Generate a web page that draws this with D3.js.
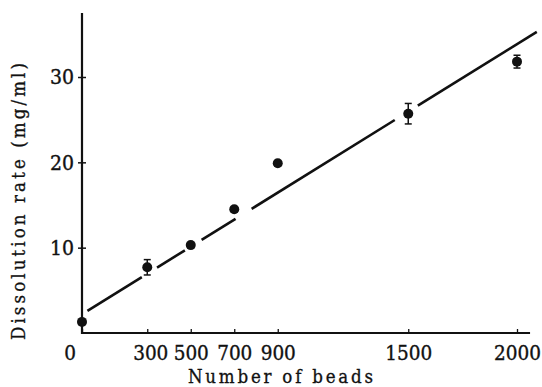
<!DOCTYPE html>
<html>
<head>
<meta charset="utf-8">
<script src="https://cdn.jsdelivr.net/npm/d3@7"></script>
<style>
  html, body { margin: 0; padding: 0; background: #fff; }
  svg { display: block; }
</style>
</head>
<body>
<svg id="chart" width="542" height="387"></svg>
<script>
// measured points (number of beads vs dissolution rate)
const beads = [0, 300, 500, 700, 900, 1500, 2000];
const rate = [1.3, 7.7, 10.3, 14.5, 19.9, 25.7, 31.8];
const rateErr = [0, 0.9, 0.3, 0.3, 0.3, 1.2, 0.75];

const xTicks = [0, 300, 500, 700, 900, 1500, 2000];
const yTicks = [10, 20, 30];

// regression line, drawn as broken pieces (start / end in data units)
const fitStartX = [25, 345, 550, 780, 1544];
const fitStartY = [2.6, 7.66, 10.91, 14.55, 26.64];
const fitEndX = [275, 473, 706, 1438, 2091];
const fitEndY = [6.55, 9.69, 13.38, 24.96, 35.3];

const svg = d3.select("#chart");
const ink = "#111";
const font = "DejaVu Serif Condensed";

const x = d3.scaleLinear().domain([0, 2000]).range([82, 517]);
const y = d3.scaleLinear().domain([0, 30]).range([333, 77]);

// axes lines
svg.append("line")
  .attr("x1", x(0)).attr("x2", x(0))
  .attr("y1", y(0) + 1).attr("y2", y(37.5))
  .attr("stroke", ink).attr("stroke-width", 2.2);
svg.append("line")
  .attr("x1", x(0) - 1).attr("x2", x(2060))
  .attr("y1", y(0)).attr("y2", y(0))
  .attr("stroke", ink).attr("stroke-width", 2.2);

// x axis
const xAxis = svg.append("g")
  .attr("transform", "translate(0," + y(0) + ")")
  .call(d3.axisBottom(x).tickValues(xTicks).tickSizeInner(-4).tickSizeOuter(0).tickPadding(0).tickFormat(d3.format("d")));
xAxis.select(".domain").remove();
xAxis.attr("font-family", font).attr("font-size", 20.5);
xAxis.selectAll(".tick line").attr("stroke", ink).attr("stroke-width", 1.3);
xAxis.selectAll(".tick text")
  .attr("fill", ink)
  .attr("stroke", ink).attr("stroke-width", 0.35)
  .attr("y", 27)
  .attr("dy", null)
  .attr("dx", d => d === 0 ? -12.5 : (d === 300 ? 3 : 0));

// y axis
const yAxis = svg.append("g")
  .attr("transform", "translate(" + x(0) + ",0)")
  .call(d3.axisLeft(y).tickValues(yTicks).tickSizeInner(4).tickSizeOuter(0).tickPadding(5));
yAxis.select(".domain").remove();
yAxis.attr("font-family", font).attr("font-size", 21);
yAxis.selectAll(".tick line").attr("x2", 4).attr("x1", -4).attr("stroke", ink).attr("stroke-width", 1.5);
yAxis.selectAll(".tick text")
  .attr("fill", ink)
  .attr("stroke", ink).attr("stroke-width", 0.35)
  .attr("x", -8)
  .attr("dy", "0.33em");

// fit line pieces
svg.append("g").selectAll("line")
  .data(fitStartX.map((d, i) => ({ x1: d, y1: fitStartY[i], x2: fitEndX[i], y2: fitEndY[i] })))
  .enter().append("line")
  .attr("x1", d => x(d.x1)).attr("y1", d => y(d.y1))
  .attr("x2", d => x(d.x2)).attr("y2", d => y(d.y2))
  .attr("stroke", ink).attr("stroke-width", 2.6).attr("stroke-linecap", "butt");

// error bars
const pts = beads.map((d, i) => ({ b: d, r: rate[i], e: rateErr[i] }));
const eb = svg.append("g").selectAll("g")
  .data(pts.filter(d => d.e > 0))
  .enter().append("g");
eb.append("line")
  .attr("x1", d => x(d.b)).attr("x2", d => x(d.b))
  .attr("y1", d => y(d.r - d.e)).attr("y2", d => y(d.r + d.e))
  .attr("stroke", ink).attr("stroke-width", 1.5);
eb.selectAll(".cap")
  .data(d => [d.r - d.e, d.r + d.e].map(v => ({ b: d.b, v: v })))
  .enter().append("line")
  .attr("x1", d => x(d.b) - 3.5).attr("x2", d => x(d.b) + 3.5)
  .attr("y1", d => y(d.v)).attr("y2", d => y(d.v))
  .attr("stroke", ink).attr("stroke-width", 1.5);

// points
svg.append("g").selectAll("circle")
  .data(pts)
  .enter().append("circle")
  .attr("cx", d => x(d.b))
  .attr("cy", d => y(d.r))
  .attr("r", 5)
  .attr("fill", ink);

// axis titles
svg.append("text")
  .attr("x", 280.5).attr("y", 383)
  .attr("text-anchor", "middle")
  .attr("font-family", font)
  .attr("font-size", 18.5)
  .attr("fill", ink)
  .attr("stroke", ink).attr("stroke-width", 0.3)
  .attr("textLength", 185).attr("lengthAdjust", "spacing")
  .text("Number of beads");

svg.append("text")
  .attr("transform", "translate(25,201.5) rotate(-90)")
  .attr("text-anchor", "middle")
  .attr("font-family", font)
  .attr("font-size", 18.5)
  .attr("fill", ink)
  .attr("stroke", ink).attr("stroke-width", 0.3)
  .attr("textLength", 277).attr("lengthAdjust", "spacing")
  .text("Dissolution rate (mg/ml)");
</script>
</body>
</html>
